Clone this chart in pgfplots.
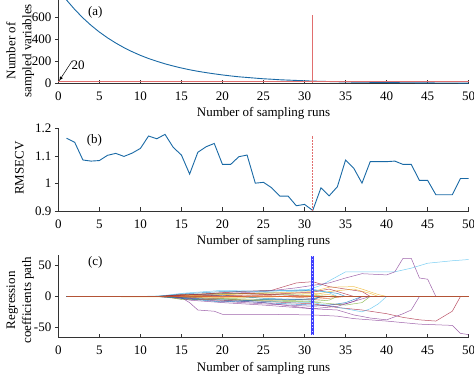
\documentclass[border=0pt]{standalone}
\usepackage{pgfplots}
\pgfplotsset{compat=1.18}
\usepackage{fontspec}
\setmainfont{Liberation Serif}
\definecolor{c1}{RGB}{0,114,189}
\definecolor{c2}{RGB}{217,83,25}
\definecolor{c3}{RGB}{237,177,32}
\definecolor{c4}{RGB}{126,47,142}
\definecolor{c5}{RGB}{119,172,48}
\definecolor{c6}{RGB}{77,190,238}
\definecolor{c7}{RGB}{162,20,47}
\definecolor{curve}{RGB}{25,105,165}
\definecolor{redl}{RGB}{225,110,110}
\pgfplotsset{
  base/.style={
    scale only axis, width=410.4pt,
    axis x line=bottom, axis y line=left,
    axis line style={-, black!80, line width=0.6pt},
    xmin=0, xmax=50, xtick={0,5,...,50},
    xtick align=inside, ytick align=outside,
    major tick length=3.5pt,
    tick style={black!80, line width=0.5pt},
    /pgf/number format/assume math mode=true,
    xticklabel style={yshift=-5pt},
    xlabel={Number of sampling runs},
    clip=false,
  },
}
\begin{document}
\begin{tikzpicture}[font=\fontsize{13}{16}\selectfont]
% ---------- (a)
\begin{axis}[base, at={(58.3pt,291.7pt)}, anchor=south west, height=83.3pt,
  ymin=0, ymax=757, ytick={0,200,400,600},
  ylabel={Number of\\sampled variables},
  every axis y label/.style={at={(axis description cs:-0.093,0.39)}, rotate=90, anchor=center, align=center}]
\addplot[curve, line width=0.9pt] coordinates {
(1,757)(2,671)(3,594)(4,526)(5,466)(6,413)(7,366)(8,324)(9,287)(10,254)
(11,225)(12,200)(13,177)(14,157)(15,139)(16,123)(17,109)(18,97)(19,86)(20,76)
(21,67)(22,59)(23,53)(24,47)(25,41)(26,37)(27,32)(28,29)(29,26)(30,23)
(31,20)(32,18)(33,16)(34,14)(35,12)(36,11)(37,10)(38,9)(39,8)(40,7)
(41,6)(42,5)(43,5)(44,4)(45,4)(46,3)(47,3)(48,3)(49,2)(50,2)};
\addplot[redl, line width=0.6pt] coordinates {(0,20)(50,20)};
\addplot[redl, line width=0.6pt] coordinates {(31,0)(31,620)};
\node at (axis cs:4.5,640) {(a)};
\draw[-latex, line width=0.5pt] (axis cs:1.7,205) -- (axis cs:0.1,22);
\node[anchor=west, inner sep=0pt] at (axis cs:1.6,160) {20};
\end{axis}
% ---------- (b)
\begin{axis}[base, at={(58.3pt,164pt)}, anchor=south west, height=82.7pt,
  ymin=0.9, ymax=1.2, ytick={0.9,1,1.1,1.2},
  yticklabels={0.9,1,1.1,1.2},
  ylabel={RMSECV},
  every axis y label/.style={at={(axis description cs:-0.095,0.52)}, rotate=90, anchor=center}]
\addplot[curve, line width=0.9pt] coordinates {
(1,1.164)(2,1.149)(3,1.085)(4,1.081)(5,1.083)(6,1.102)(7,1.109)(8,1.098)(9,1.110)(10,1.127)
(11,1.172)(12,1.162)(13,1.178)(14,1.131)(15,1.103)(16,1.034)(17,1.113)(18,1.133)(19,1.145)(20,1.069)
(21,1.069)(22,1.097)(23,1.103)(24,1.001)(25,1.004)(26,0.984)(27,0.954)(28,0.954)(29,0.919)(30,0.924)
(31,0.902)(32,0.984)(33,0.955)(34,0.988)(35,1.085)(36,1.055)(37,1.001)(38,1.079)(39,1.079)(40,1.079)
(41,1.081)(42,1.069)(43,1.069)(44,1.011)(45,1.011)(46,0.959)(47,0.959)(48,0.959)(49,1.018)(50,1.018)};
\addplot[redl, line width=0.6pt, dash pattern=on 2pt off 1pt] coordinates {(31,0.9)(31,1.173)};
\node at (axis cs:4.4,1.157) {(b)};
\end{axis}
% ---------- (c)
\begin{axis}[base, at={(58.3pt,37.3pt)}, anchor=south west, height=83.1pt,
  ymin=-67, ymax=68, ytick={-50,0,50},
  ylabel={Regression\\coefficients path},
  every axis y label/.style={at={(axis description cs:-0.093,0.45)}, rotate=90, anchor=center, align=center},
  every axis plot/.append style={line width=0.5pt, opacity=0.75}]
\addplot[c4] coordinates {(1,0)(14,0)(15,-2)(16,-10)(17,-22)(19,-24)(20,-29)(25,-29)(31,-30)(34,-32)(36,-36)(40,-40)(44,-45)(48,-47)(49,-60)(50,-62)};
\addplot[c6] coordinates {(1,0)(10,0)(15,2)(20,4)(25,6)(30,9)(32,18)(35,40)(41,40)(43,46)(45,54)(48,58)(50,60)};
\addplot[c4] coordinates {(1,0)(12,0)(18,3)(25,8)(29,14)(31,18)(33,22)(35,30)(37,37)(40,35)(41,40)(42,62)(43,62)(44,30)(45,28)(46,0)(50,0)};
\addplot[c7] coordinates {(1,0)(13,0)(18,4)(22,8)(26,10)(29,22)(31,24)(33,16)(35,12)(37,8)(38,0)(50,0)};
\addplot[c3] coordinates {(1,0)(14,0)(20,3)(25,5)(31,8)(33,15)(36,16)(37,12)(39,3)(40,0)(50,0)};
\addplot[c3] coordinates {(1,0)(15,-1)(20,-2)(26,-1)(31,2)(33,8)(36,12)(38,5)(39,0)(50,0)};
\addplot[c1] coordinates {(1,0)(12,0)(15,-2)(20,-6)(25,-10)(31,-14)(33,-14)(35,-10)(36,-5)(37,0)(50,0)};
\addplot[c7] coordinates {(1,0)(13,0)(15,-1)(20,-4)(25,-8)(31,-12)(34,-18)(37,-22)(40,-28)(42,-34)(44,-38)(46,-40)(48,-24)(49,0)(50,0)};
\addplot[c4] coordinates {(1,0)(13,0)(15,-2)(25,-10)(31,-20)(34,-22)(36,-30)(38,-35)(40,-38)(42,-28)(43,-22)(44,0)(50,0)};
\addplot[c5] coordinates {(1,0)(12,0)(15,3)(20,5)(25,4)(31,2)(33,0)(50,0)};
\addplot[c6] coordinates {(1,0)(12,0)(15,-3)(20,-5)(25,-8)(31,-10)(33,-15)(35,-20)(37,-25)(38,-20)(39,-12)(40,0)(50,0)};
\addplot[c2] coordinates {(1,0)(12,0)(15,-4)(20,-6)(25,-6)(31,-5)(33,-3)(35,0)(50,0)};
\addplot[c1] coordinates {(1,0)(12,0)(15,4)(20,8)(25,9)(31,10)(34,5)(35,0)(50,0)};
\addplot[c5] coordinates {(1,0)(13,0)(15,-2)(20,-3)(25,-5)(31,-8)(33,-6)(34,0)(50,0)};
\addplot[c4] coordinates {(1,0)(13,0)(15,-2)(20,-8)(25,-12)(31,-16)(35,-12)(38,0)(50,0)};
\addplot[c3] coordinates {(1,0)(12,0)(15,1)(20,3)(25,6)(31,5)(33,3)(34,0)(50,0)};
\addplot[c7] coordinates {(1,0)(12,0)(15,2)(20,6)(25,4)(31,0)(50,0)};
\addplot[c1] coordinates {(1,0)(13,0)(15,-1)(20,2)(25,-3)(31,-6)(32,0)(50,0)};
\addplot[c6] coordinates {(1,0)(12,0)(15,5)(20,10)(25,8)(31,12)(33,6)(34,0)(50,0)};
\addplot[c2] coordinates {(1,0)(12,0)(15,1)(20,-1)(25,2)(31,-3)(33,0)(50,0)};
\addplot[c5] coordinates {(1,0)(13,0)(15,-5)(20,-4)(25,-7)(31,-9)(35,-14)(37,-10)(38,0)(50,0)};
\addplot[c7] coordinates {(1,0)(12,0)(15,3)(20,1)(25,3)(31,7)(33,12)(35,4)(36,0)(50,0)};
\addplot[c4] coordinates {(1,0)(14,0)(16,-6)(20,-10)(25,-14)(29,-18)(31,-20)(34,-16)(36,-8)(37,0)(50,0)};
\addplot[c1] coordinates {(1,0)(12,0)(15,-3)(20,-9)(25,-5)(31,-4)(32,0)(50,0)};
\addplot[c2, line width=0.8pt] coordinates {(1,0)(50,0)};
\addplot[blue!75!white, line width=3.5pt, opacity=1] coordinates {(31,-63)(31,65)};
\addplot[white, line width=1.2pt, dash pattern=on 1.2pt off 2.2pt, opacity=0.8] coordinates {(31,-63)(31,65)};
\node at (axis cs:4.5,55) {(c)};
\end{axis}
\pgfresetboundingbox
\path (0,0) rectangle (474pt,375pt);
\end{tikzpicture}
\end{document}
